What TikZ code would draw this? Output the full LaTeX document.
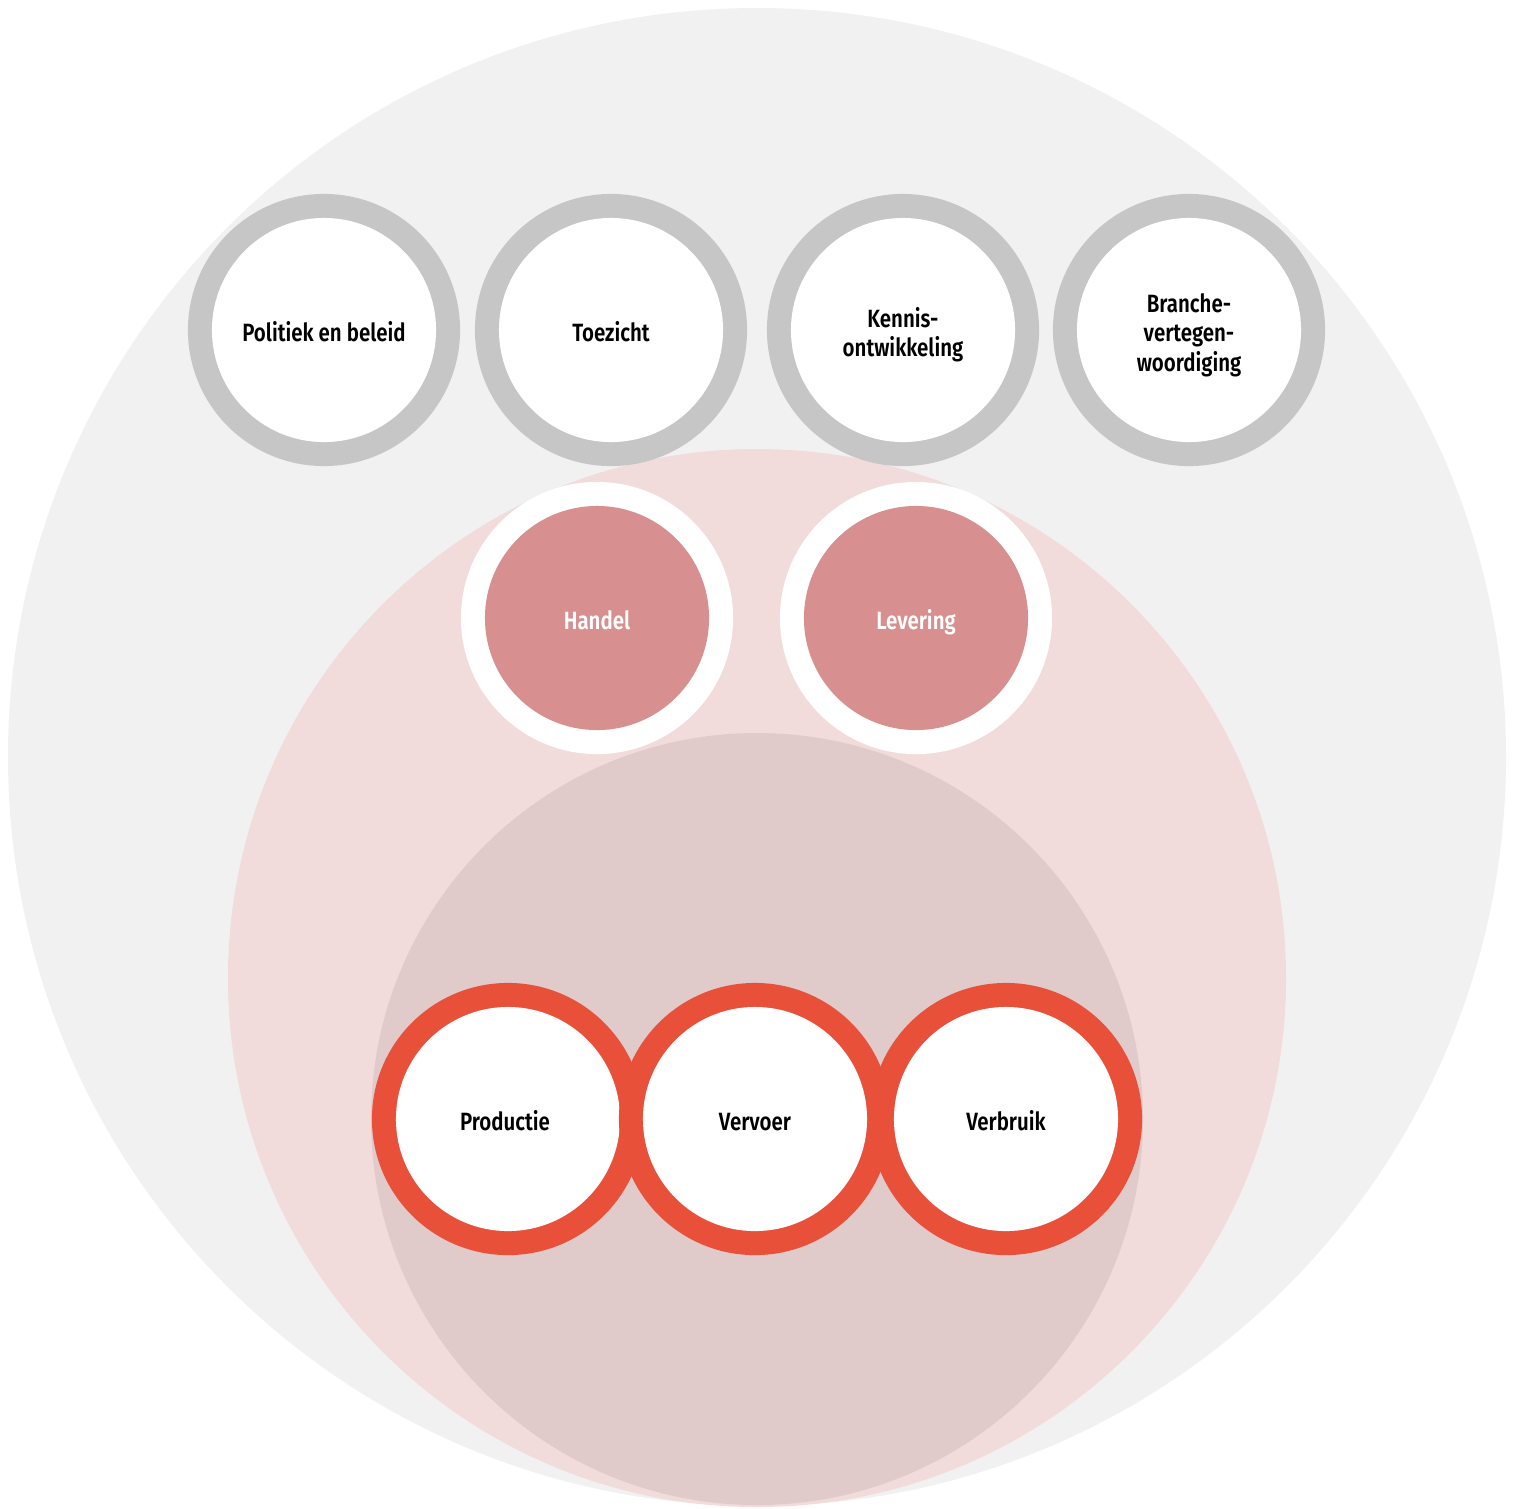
\documentclass[tikz,border=0pt]{standalone}
\usepackage{fontspec}
\newfontfamily\labelfont[FakeStretch=0.82]{Fira Sans SemiBold}
\definecolor{outerbg}{HTML}{F1F1F1}
\definecolor{pinkbg}{HTML}{F2DBDB}
\definecolor{innerbg}{HTML}{E0CACA}
\definecolor{ringgray}{HTML}{C6C6C6}
\definecolor{rose}{HTML}{D78F8F}
\definecolor{ringred}{HTML}{E8503A}
\tikzset{
  ring/.style={circle, minimum size=2.72cm, inner sep=0pt},
  core/.style={circle, minimum size=2.24cm, inner sep=0pt},
  lbl/.style={align=center, inner sep=0pt,
    font=\labelfont\fontsize{7.1}{8.4}\selectfont},
}
\begin{document}
\begin{tikzpicture}[x=0.01cm,y=-0.01cm]
\useasboundingbox (0,0) rectangle (1516,1508);
\fill[outerbg] (757,757) circle[radius=749];
\fill[pinkbg] (757,978) circle[radius=529];
\fill[innerbg] (757,1119) circle[radius=386];
% top gray rings
\foreach \n/\x/\t in {pol/324/Politiek en beleid, toe/611/Toezicht, ken/903/Kennis-\\ontwikkeling, bra/1189/Branche-\\vertegen-\\woordiging}{
  \node[ring, fill=ringgray] (\n r) at (\x,330) {};
  \node[core, fill=white] (\n) at (\n r.center) {};
  \node[lbl] (\n t) at ([yshift=-0.06cm]\n.center) {\strut\t\strut};
}
% middle rings
\node[ring, fill=white] (handr) at (597,618) {};
\node[core, fill=rose] (hand) at (handr.center) {};
\node[lbl, text=white] (handt) at ([yshift=-0.06cm]hand.center) {\strut Handel\strut};
\node[ring, fill=white] (levr) at (916,618) {};
\node[core, fill=rose] (lev) at (levr.center) {};
\node[lbl, text=white] (levt) at ([yshift=-0.06cm]lev.center) {\strut Levering\strut};
% bottom red rings
\node[ring, fill=ringred] (prodr) at (508,1119) {};
\node[core, fill=white] (prod) at (prodr.center) {};
\node[lbl] (prodt) at ([xshift=-0.03cm,yshift=-0.06cm]prod.center) {\strut Productie\strut};
\node[ring, fill=ringred] (vervr) at (755,1119) {};
\node[core, fill=white] (verv) at (vervr.center) {};
\node[lbl] (vervt) at ([yshift=-0.06cm]verv.center) {\strut Vervoer\strut};
\node[ring, fill=ringred] (verbr) at (1006,1119) {};
\node[core, fill=white] (verb) at (verbr.center) {};
\node[lbl] (verbt) at ([yshift=-0.06cm]verb.center) {\strut Verbruik\strut};
\end{tikzpicture}
\end{document}
